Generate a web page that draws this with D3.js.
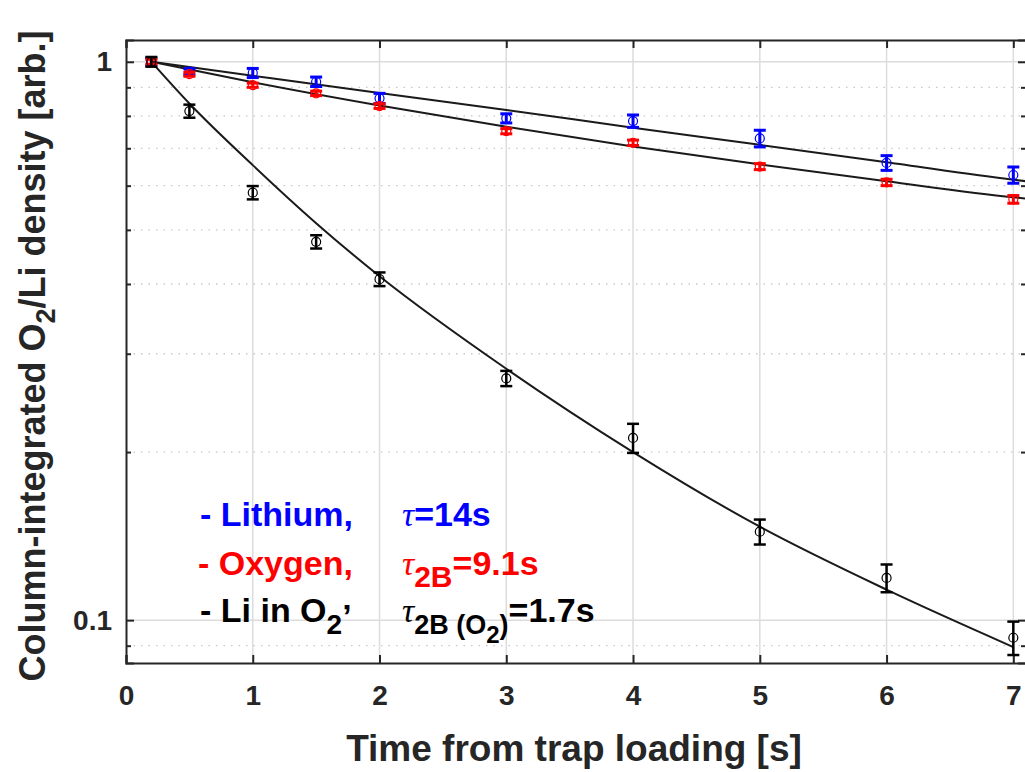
<!DOCTYPE html>
<html><head><meta charset="utf-8">
<script src="https://cdn.jsdelivr.net/npm/d3@7"></script>
<style>
html,body{margin:0;padding:0;background:#fff;}
text{font-family:"Liberation Sans",Arial,Helvetica,sans-serif;font-weight:bold;}
</style></head>
<body>
<svg id="chart" width="1025" height="772"></svg>
<script>
// ---- data ----
const times = [0.2, 0.5, 1, 1.5, 2, 3, 4, 5, 6, 7];
const lithium = [1.0, 0.96, 0.955, 0.921, 0.860, 0.792, 0.783, 0.729, 0.659, 0.627];
const lithiumErr = [0.015, 0.012, 0.018, 0.018, 0.018, 0.015, 0.02, 0.025, 0.02, 0.021];
const oxygen = [1.0, 0.95, 0.908, 0.878, 0.833, 0.751, 0.716, 0.649, 0.608, 0.567];
const oxygenErr = [0.01, 0.008, 0.008, 0.008, 0.008, 0.008, 0.008, 0.008, 0.008, 0.009];
const liInO2 = [1.0, 0.816, 0.583, 0.476, 0.408, 0.271, 0.212, 0.144, 0.119, 0.093];
const liInO2Err = [0.02, 0.022, 0.016, 0.013, 0.0115, 0.0085, 0.0127, 0.0074, 0.0068, 0.0064];

const fitTimes = [0.2, 1, 2, 3, 4, 5, 6, 7, 7.1];
const lithiumFit = [1.0, 0.944, 0.879, 0.820, 0.762, 0.710, 0.661, 0.615, 0.611];
const oxygenFit = [1.0, 0.919, 0.835, 0.765, 0.705, 0.655, 0.611, 0.572, 0.569];
const liInO2FitTimes = [0.2, 0.5, 1, 1.5, 2, 3, 4, 5, 6, 7];
const liInO2Fit = [1.0, 0.842, 0.653, 0.514, 0.413, 0.282, 0.200, 0.147, 0.1134, 0.0895];

const xTicks = [0, 1, 2, 3, 4, 5, 6, 7];
const yTicks = [0.1, 1];
const yTickLabels = ["0.1", "1"];
const yMinor = [0.09, 0.2, 0.3, 0.4, 0.5, 0.6, 0.7, 0.8, 0.9];

// ---- layout ----
const svg = d3.select("#chart");
const L = 126, R = 1026, T = 40, B = 663;
const x = d3.scaleLinear().domain([0, 7.1]).range([L, R]);
const y = d3.scaleLog().domain([0.0838, 1.094]).range([B, T]);

const g = svg.append("g");

// grid
g.selectAll(".xg").data(xTicks.filter(d => d > 0)).enter().append("line")
  .attr("x1", d => x(d)).attr("x2", d => x(d)).attr("y1", T).attr("y2", B)
  .attr("stroke", "#dcdcdc").attr("stroke-width", 1.5);
g.selectAll(".yg").data(yTicks).enter().append("line")
  .attr("x1", L).attr("x2", R).attr("y1", d => y(d)).attr("y2", d => y(d))
  .attr("stroke", "#dcdcdc").attr("stroke-width", 1.5);
g.selectAll(".ym").data(yMinor).enter().append("line")
  .attr("x1", L).attr("x2", R).attr("y1", d => y(d)).attr("y2", d => y(d))
  .attr("stroke", "#c8c8c8").attr("stroke-width", 1.3).attr("stroke-dasharray", "1.5,6");

// axes (ticks inward)
const axB = d3.axisBottom(x).tickValues(xTicks).tickSize(-8).tickPadding(22).tickFormat(d3.format("d"));
const axT = d3.axisTop(x).tickValues(xTicks).tickSize(-8).tickFormat("");
const axL = d3.axisLeft(y).tickValues(yTicks).tickSize(-8).tickPadding(14).tickFormat((d, i) => yTickLabels[i]);
const axR = d3.axisRight(y).tickValues(yTicks).tickSize(-8).tickFormat("");
const axLm = d3.axisLeft(y).tickValues(yMinor).tickSize(-5).tickFormat("");
const axRm = d3.axisRight(y).tickValues(yMinor).tickSize(-5).tickFormat("");

function style(sel) {
  sel.select(".domain").attr("stroke", "#262626").attr("stroke-width", 2);
  sel.selectAll(".tick line").attr("stroke", "#262626").attr("stroke-width", 2);
  sel.selectAll(".tick text").attr("fill", "#262626").attr("font-size", 28)
    .attr("font-family", "'Liberation Sans',Arial,sans-serif").attr("font-weight", "bold");
}
g.append("g").attr("transform", `translate(0,${B})`).call(axB).call(style);
g.append("g").attr("transform", `translate(0,${T})`).call(axT).call(style);
g.append("g").attr("transform", `translate(${L},0)`).call(axL).call(style);
g.append("g").attr("transform", `translate(${R},0)`).call(axR).call(style);
g.append("g").attr("transform", `translate(${L},0)`).call(axLm).call(style).select(".domain").remove();
g.append("g").attr("transform", `translate(${R},0)`).call(axRm).call(style).select(".domain").remove();

// fit lines
const line = d3.line().x(d => x(d[0])).y(d => y(d[1])).curve(d3.curveMonotoneX);
const fits = [
  fitTimes.map((t, i) => [t, lithiumFit[i]]),
  fitTimes.map((t, i) => [t, oxygenFit[i]]),
  liInO2FitTimes.map((t, i) => [t, liInO2Fit[i]])
];
g.selectAll(".fit").data(fits).enter().append("path")
  .attr("d", line).attr("fill", "none").attr("stroke", "#1a1a1a").attr("stroke-width", 2);

// data with error bars
const series = [
  { vals: lithium, err: lithiumErr, color: "#0000ff", w: 3 },
  { vals: oxygen, err: oxygenErr, color: "#ff0000", w: 3 },
  { vals: liInO2, err: liInO2Err, color: "#000000", w: 2.5 }
];
const cap = 6;
series.forEach(s => {
  const pts = times.map((t, i) => ({ t, v: s.vals[i], e: s.err[i] }));
  const sg = g.append("g");
  pts.forEach(p => {
    const cx = x(p.t), yt = y(p.v + p.e), yb = y(p.v - p.e);
    sg.append("line").attr("x1", cx).attr("x2", cx).attr("y1", yt).attr("y2", yb)
      .attr("stroke", s.color).attr("stroke-width", s.w);
    sg.append("line").attr("x1", cx - cap).attr("x2", cx + cap).attr("y1", yt).attr("y2", yt)
      .attr("stroke", s.color).attr("stroke-width", s.w);
    sg.append("line").attr("x1", cx - cap).attr("x2", cx + cap).attr("y1", yb).attr("y2", yb)
      .attr("stroke", s.color).attr("stroke-width", s.w);
    sg.append("circle").attr("cx", cx).attr("cy", y(p.v)).attr("r", 4.5)
      .attr("fill", "none").attr("stroke", s.color).attr("stroke-width", 1.2);
  });
});

// legend text
const fs = 34;
const leg = g.append("g").attr("font-size", fs);
function tau(t) { t.append("tspan").text("τ").attr("font-family", "'Liberation Serif','DejaVu Serif',serif").attr("font-style", "italic").attr("font-weight", "normal"); }
// row 1
leg.append("text").attr("x", 200).attr("y", 526).attr("fill", "#0000ff").text("- Lithium,");
let t1 = leg.append("text").attr("x", 402).attr("y", 526).attr("fill", "#0000ff");
tau(t1); t1.append("tspan").text("=14s");
// row 2
leg.append("text").attr("x", 198).attr("y", 575).attr("fill", "#ff0000").text("- Oxygen,");
let t2 = leg.append("text").attr("x", 402).attr("y", 575).attr("fill", "#ff0000");
tau(t2);
t2.append("tspan").text("2B").attr("dy", 12).attr("font-size", 30);
t2.append("tspan").text("=9.1s").attr("dy", -12);
// row 3
let t3 = leg.append("text").attr("x", 200).attr("y", 622).attr("fill", "#000");
t3.append("tspan").text("- Li in O");
t3.append("tspan").text("2").attr("dy", 12).attr("font-size", 28);
t3.append("tspan").text("’").attr("dy", -6);
let t4 = leg.append("text").attr("x", 402).attr("y", 622).attr("fill", "#000");
tau(t4);
t4.append("tspan").text("2B (O").attr("dy", 12).attr("font-size", 27);
t4.append("tspan").text("2").attr("dy", 9).attr("font-size", 24);
t4.append("tspan").text(")").attr("dy", -9).attr("font-size", 27);
t4.append("tspan").text("=1.7s").attr("dy", -12);

// axis labels
svg.append("text").attr("x", 574).attr("y", 761).attr("text-anchor", "middle")
  .attr("font-size", 37).attr("fill", "#262626").text("Time from trap loading [s]");
const yl = svg.append("text").attr("transform", `translate(45,356) rotate(-90)`).attr("text-anchor", "middle")
  .attr("font-size", 36).attr("fill", "#262626");
yl.append("tspan").text("Column-integrated O");
yl.append("tspan").text("2").attr("dy", 10).attr("font-size", 27);
yl.append("tspan").text("/Li density [arb.]").attr("dy", -10);
</script>
</body></html>
